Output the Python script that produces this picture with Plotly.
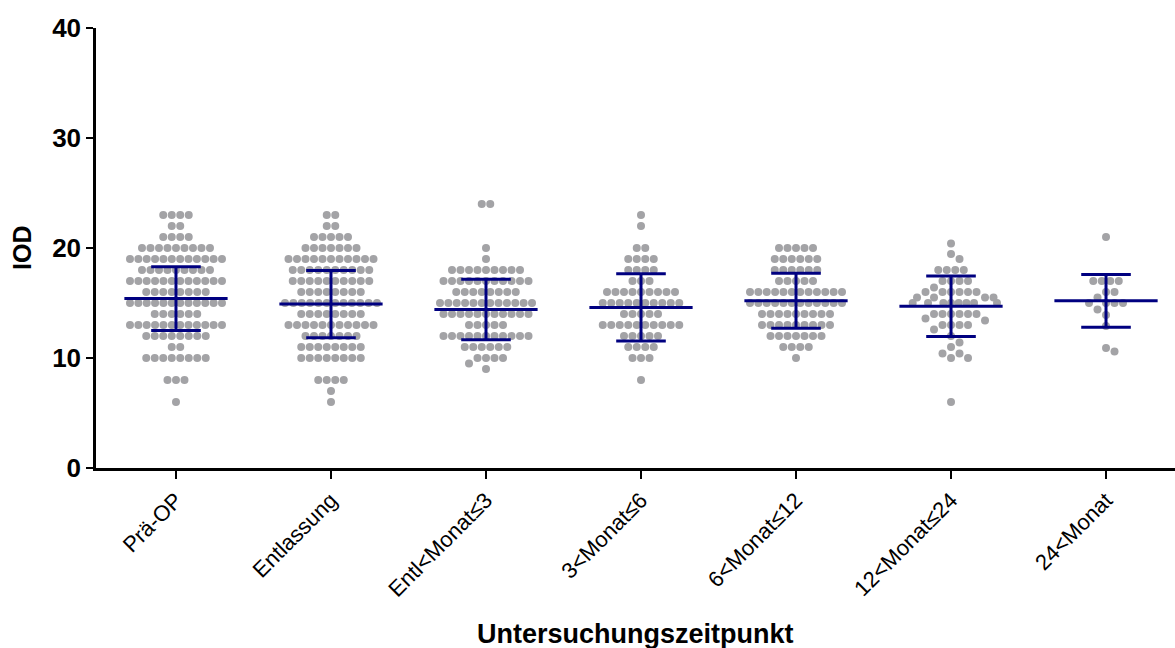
import plotly.graph_objects as go

# ---------------- data ----------------
categories = ["Prä-OP", "Entlassung", "Entl<Monat≤3", "3<Monat≤6",
              "6<Monat≤12", "12<Monat≤24", "24<Monat"]

pre_op_values = [23, 22, 21, 20, 19, 18, 17, 16, 15, 14, 13, 12, 11, 10, 8, 6]
pre_op_counts = [4, 2, 4, 9, 12, 9, 12, 8, 12, 6, 12, 8, 2, 8, 3, 1]

entl_values = [23, 22, 21, 20, 19, 18, 17, 16, 15, 14, 13, 12, 11, 10, 8, 7, 6]
entl_counts = [2, 2, 5, 7, 11, 10, 10, 8, 12, 8, 11, 7, 8, 8, 4, 1, 1]

m3_values = [24, 20, 19, 18, 17, 16, 15, 14, 13, 12, 11, 10, 9.5, 9]
m3_counts = [2, 1, 1, 9, 11, 8, 12, 11, 5, 11, 6, 4, 1, 1]

m6_values = [23, 22, 20, 19, 18, 17, 16, 15, 14, 13, 12, 11, 10, 8]
m6_counts = [1, 1, 2, 4, 4, 3, 9, 10, 5, 10, 5, 4, 3, 1]

m12_values = [20, 19, 18, 17, 16, 15, 14, 13, 12, 11, 10]
m12_counts = [5, 6, 6, 5, 12, 12, 9, 9, 7, 4, 1]

m24_values = [20.4, 19.45, 19, 18, 17, 16.4, 16, 15.5, 15, 14, 13.6, 13.4, 13,
              12.6, 12, 11.4, 11, 10.4, 10, 6]
m24_counts = [1, 1, 1, 4, 4, 1, 6, 4, 8, 6, 1, 1, 4, 1, 1, 1, 1, 2, 2, 1]

over24_values = [21, 17, 16, 15.5, 15, 14.4, 13.9, 12.9, 10.9, 10.6]
over24_counts = [1, 4, 2, 1, 4, 1, 1, 1, 1, 1]

mean_values = [15.4, 14.9, 14.4, 14.6, 15.2, 14.7, 15.2]
sd_values = [2.9, 3.05, 2.75, 3.05, 2.5, 2.75, 2.4]

groups_values = [pre_op_values, entl_values, m3_values, m6_values,
                 m12_values, m24_values, over24_values]
groups_counts = [pre_op_counts, entl_counts, m3_counts, m6_counts,
                 m12_counts, m24_counts, over24_counts]

# ---------------- layout constants ----------------
W, H = 1175, 648
ML, MR, MT, MB = 96, 0, 28, 180
X_RANGE = [-0.516, 6.445]
Y_RANGE = [0, 40]
PX_X = (W - ML - MR) / (X_RANGE[1] - X_RANGE[0])
PX_Y = (H - MT - MB) / (Y_RANGE[1] - Y_RANGE[0])
DOT_STEP = 8.5      # px between neighbouring dot centres
HALF_W = 46.0       # px, max half-width of a column of dots


def swarm(vals):
    n = len(vals)
    order = sorted(range(n), key=lambda i: -vals[i])
    cand = [0.0] + [s * k * DOT_STEP / 2 for k in range(1, 80) for s in (1, -1)]
    placed = []
    offs = [0.0] * n
    for i in order:
        y = vals[i] * PX_Y
        for c in cand:
            if all((c - px) ** 2 + (y - py) ** 2 >= DOT_STEP ** 2 - 1e-6
                   for px, py in placed):
                break
        offs[i] = c
        placed.append((c, y))
    rows = {}
    for i, v in enumerate(vals):
        rows.setdefault(v, []).append(i)
    uniq = sorted(rows)
    for v, idx in rows.items():
        isolated = all(abs(v - u) * PX_Y >= DOT_STEP for u in uniq if u != v)
        if isolated:
            mu = sum(offs[i] for i in idx) / len(idx)
            for i in idx:
                offs[i] -= mu
        m = max(abs(offs[i]) for i in idx)
        if m > HALF_W:
            f = HALF_W / m
            for i in idx:
                offs[i] *= f
    return [o / PX_X for o in offs]


dot_x, dot_y = [], []
for gi, (vals, cnts) in enumerate(zip(groups_values, groups_counts)):
    pts = []
    for v, c in zip(vals, cnts):
        pts += [v] * c
    offs = swarm(pts)
    dot_x += [gi + o for o in offs]
    dot_y += pts

# error bars (mean +- SD)
MEAN_HALF = 0.333
CAP_HALF = 0.16
ex, ey = [], []
for gi, (m, s) in enumerate(zip(mean_values, sd_values)):
    ex += [gi - MEAN_HALF, gi + MEAN_HALF, None]
    ey += [m, m, None]
    ex += [gi, gi, None]
    ey += [m - s, m + s, None]
    ex += [gi - CAP_HALF, gi + CAP_HALF, None]
    ey += [m + s, m + s, None]
    ex += [gi - CAP_HALF, gi + CAP_HALF, None]
    ey += [m - s, m - s, None]

FONT = "Liberation Sans, Arial, sans-serif"

fig = go.Figure()
fig.add_trace(go.Scatter(x=dot_x, y=dot_y, mode="markers",
                         marker=dict(size=8, color="#A3A3A6", line=dict(width=0)),
                         hoverinfo="y", showlegend=False))
fig.add_trace(go.Scatter(x=ex, y=ey, mode="lines",
                         line=dict(color="#000080", width=3),
                         hoverinfo="skip", showlegend=False))

fig.update_layout(
    width=W, height=H,
    margin=dict(l=ML, r=MR, t=MT, b=MB),
    paper_bgcolor="white", plot_bgcolor="white",
    font=dict(family=FONT, color="black"),
    xaxis=dict(range=X_RANGE, tickvals=list(range(len(categories))),
               ticktext=categories, tickangle=-45,
               tickfont=dict(size=22, family=FONT, color="black"),
               showline=True, linecolor="black", linewidth=2.5,
               ticks="outside", ticklen=8, tickwidth=2, tickcolor="black",
               showgrid=False, zeroline=False),
    yaxis=dict(range=Y_RANGE, tickvals=[0, 10, 20, 30, 40],
               tickfont=dict(size=26, family=FONT, color="black", weight="bold"),
               showline=True, linecolor="black", linewidth=2.5,
               ticks="outside", ticklen=7, tickwidth=2, tickcolor="black",
               showgrid=False, zeroline=False),
    annotations=[
        dict(text="Untersuchungszeitpunkt", xref="paper", yref="paper",
             x=0.5, y=-(634 - (H - MB)) / (H - MT - MB),
             xanchor="center", yanchor="middle", showarrow=False,
             font=dict(size=27, family=FONT, color="black", weight="bold")),
        dict(text="IOD", xref="paper", yref="paper",
             x=-(ML - 22) / (W - ML - MR), y=0.5, textangle=-90,
             xanchor="center", yanchor="middle", showarrow=False,
             font=dict(size=25, family=FONT, color="black", weight="bold")),
    ],
)

fig.write_html("out.html")
